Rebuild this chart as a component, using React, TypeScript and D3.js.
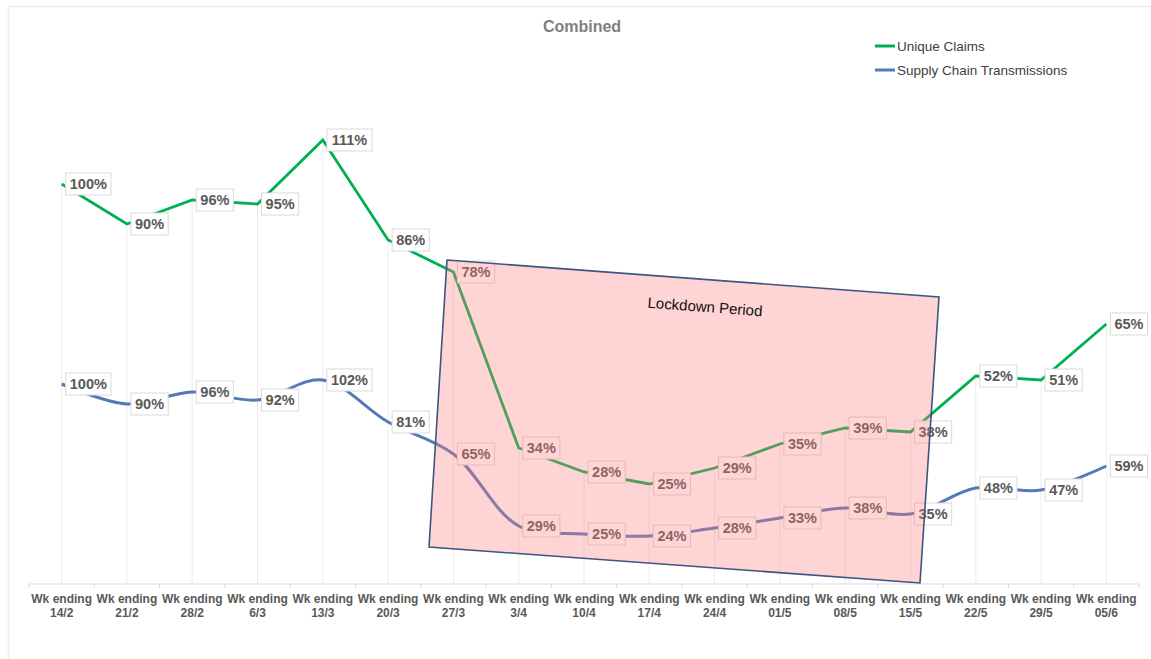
import React from "react";
import * as d3 from "d3";

// Weekly index values (% of baseline week)
const weeks = ["14/2", "21/2", "28/2", "6/3", "13/3", "20/3", "27/3", "3/4", "10/4", "17/4", "24/4", "01/5", "08/5", "15/5", "22/5", "29/5", "05/6"];
const uniqueClaims = [100, 90, 96, 95, 111, 86, 78, 34, 28, 25, 29, 35, 39, 38, 52, 51, 65];
const supplyChain = [100, 90, 96, 92, 102, 81, 65, 29, 25, 24, 28, 33, 38, 35, 48, 47, 59];
const seriesNames = ["Unique Claims", "Supply Chain Transmissions"];
const tickPrefix = "Wk ending";

const W = 1151;
const H = 659;
const plotLeft = 29;
const plotRight = 1139;
const axisY = 584;
const plotTop = 24;

const GREEN = "#00b050";
const BLUE = "#5479b8";
const LABEL = "#595959";
const FONT = "'Liberation Sans', Arial, sans-serif";

export default function App() {
  const x = d3.scaleBand<string>().domain(weeks).range([plotLeft, plotRight]).padding(0);
  const cx = (w: string) => (x(w) as number) + x.bandwidth() / 2;
  // primary axis for claims, secondary axis for transmissions
  const yClaims = d3.scaleLinear().domain([0, 140]).range([axisY, plotTop]);
  const ySupply = d3.scaleLinear().domain([0, 280]).range([axisY, plotTop]);

  const claimsLine = d3
    .line<number>()
    .x((_, i) => cx(weeks[i]))
    .y((d) => yClaims(d))
    .curve(d3.curveLinear);
  const supplyLine = d3
    .line<number>()
    .x((_, i) => cx(weeks[i]))
    .y((d) => ySupply(d))
    .curve(d3.curveCatmullRom.alpha(0.5));

  const labelBox = (v: number, px: number, py: number, key: string) => {
    const txt = `${v}%`;
    const digits = String(v).length;
    const w = digits * 8.1 + 13 + 8;
    const h = 22;
    const left = px + 4;
    return (
      <g key={key}>
        <rect x={left} y={py - h / 2} width={w} height={h} fill="#fff" stroke="#d9d9d9" strokeWidth={1} />
        <text x={left + w / 2} y={py + 5} textAnchor="middle" fontFamily={FONT} fontWeight="bold" fontSize={14.5} fill={LABEL}>
          {txt}
        </text>
      </g>
    );
  };

  const bounds = weeks.map((w) => x(w) as number).concat([plotRight]);

  return (
    <svg width={W} height={H} style={{ position: "absolute", left: 0, top: 0, background: "#fff" }}>
      {/* frame */}
      <path d={`M8.5,${H} V6.5 H${W}`} fill="none" stroke="#ececec" strokeWidth={1.5} />

      <text x={582} y={32} textAnchor="middle" fontFamily={FONT} fontWeight="bold" fontSize={16} fill="#7f7f7f">
        Combined
      </text>

      {/* legend */}
      <g fontFamily={FONT} fontSize={13.5} fill="#404040">
        <line x1={875} x2={895} y1={46} y2={46} stroke={GREEN} strokeWidth={3} />
        <text x={897} y={51}>{seriesNames[0]}</text>
        <line x1={875} x2={895} y1={70} y2={70} stroke={BLUE} strokeWidth={3} />
        <text x={897} y={75}>{seriesNames[1]}</text>
      </g>

      {/* drop lines */}
      {weeks.map((w, i) => (
        <line
          key={`drop-${w}`}
          x1={cx(w)}
          x2={cx(w)}
          y1={Math.min(yClaims(uniqueClaims[i]), ySupply(supplyChain[i]))}
          y2={axisY}
          stroke="#ececec"
          strokeWidth={1}
        />
      ))}

      {/* category axis */}
      <line x1={plotLeft} x2={plotRight} y1={axisY} y2={axisY} stroke="#d9d9d9" strokeWidth={1} />
      {bounds.map((b, i) => (
        <line key={`tick-${i}`} x1={b} x2={b} y1={axisY} y2={axisY + 4} stroke="#d9d9d9" strokeWidth={1} />
      ))}
      {weeks.map((w) => (
        <text key={`lab-${w}`} x={cx(w)} textAnchor="middle" fontFamily={FONT} fontWeight="bold" fontSize={12} fill={LABEL}>
          <tspan x={cx(w)} y={603}>{tickPrefix}</tspan>
          <tspan x={cx(w)} y={617}>{w}</tspan>
        </text>
      ))}

      {/* series */}
      <path d={supplyLine(supplyChain) || ""} fill="none" stroke={BLUE} strokeWidth={3} />
      <path d={claimsLine(uniqueClaims) || ""} fill="none" stroke={GREEN} strokeWidth={2.8} />

      {/* data labels */}
      {supplyChain.map((v, i) => labelBox(v, cx(weeks[i]), ySupply(v), `s-${i}`))}
      {uniqueClaims.map((v, i) => labelBox(v, cx(weeks[i]), yClaims(v), `c-${i}`))}

      {/* lockdown annotation */}
      <polygon
        points="447,260 939,297 920,583 429,547"
        fill="rgba(255,120,120,0.32)"
        stroke="#3d5580"
        strokeWidth={1.6}
      />
      <text
        x={705}
        y={312}
        textAnchor="middle"
        fontFamily={FONT}
        fontSize={15}
        fill="#111"
        transform="rotate(4.3 705 307)"
      >
        Lockdown Period
      </text>
    </svg>
  );
}
